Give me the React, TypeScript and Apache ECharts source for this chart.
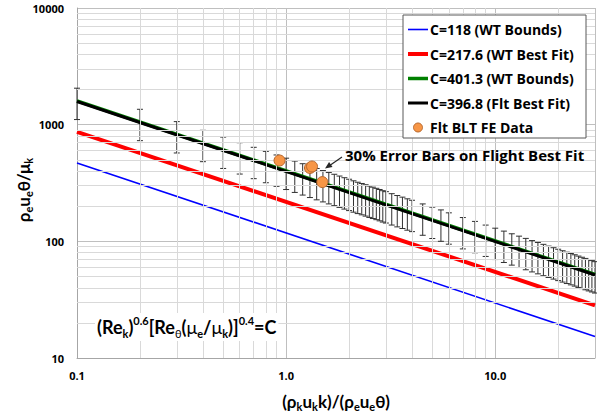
import React, { useEffect, useRef } from 'react';
import * as echarts from 'echarts';

// ---- data ----
const seriesNames = [
  'C=118 (WT Bounds)',
  'C=217.6 (WT Best Fit)',
  'C=401.3 (WT Bounds)',
  'C=396.8 (Flt Best Fit)',
  'Flt BLT FE Data',
];
const seriesColors = ['#0000FF', '#FF0000', '#008000', '#000000', '#F79646'];
const seriesWidths = [1.6, 4, 3.5, 3, 0];
const blueLine = [[0.1, 470], [30, 15.3]];
const redLine = [[0.1, 866], [30, 28.3]];
const greenLine = [[0.1, 1598], [30, 52.1]];
const blackLine = [[0.1, 1580], [30, 51.5]];
const fltData = [[0.93, 493], [1.3, 425], [1.33, 438], [1.49, 322]];

const errX = [
  0.1, 0.2, 0.3, 0.4, 0.5, 0.6, 0.7, 0.8, 0.9, 1.0,
  1.1, 1.2, 1.3, 1.4, 1.5, 1.6, 1.7, 1.8, 1.9, 2.0,
  2.1, 2.2, 2.3, 2.4, 2.5, 2.6, 2.7, 2.8, 2.9, 3.0,
  3.2, 3.4, 3.6, 3.8, 4.0, 4.5, 5.0, 5.5,
  6, 7, 8, 9, 10, 11, 12, 13, 14, 15, 16, 17, 18, 19, 20,
  21, 22, 23, 24, 25, 26, 27, 28, 29, 30,
];
const errCenter = [
  1580, 1042, 817, 688, 602, 539, 492, 454, 423, 397,
  375, 356, 339, 324, 311, 299, 289, 279, 270, 262,
  254, 247, 241, 235, 229, 224, 219, 214, 209, 205,
  197, 190, 184, 178, 173, 161, 151, 143,
  135, 123, 114, 106, 99.7, 94.1, 89.3, 85.2, 81.5, 78.1, 75.2, 72.5, 70.0, 67.8, 65.8,
  63.9, 62.1, 60.5, 59.0, 57.5, 56.2, 54.9, 53.7, 52.6, 51.5,
];
const errPct = 0.3;

const xTickLabels: Record<string, string> = { '0.1': '0.1', '1': '1.0', '10': '10.0' };
const yTickLabels = ['10', '100', '1000', '10000'];
const xMinorGrid = [0.2, 0.3, 0.4, 0.5, 0.6, 0.7, 0.8, 0.9, 2, 3, 4, 5, 6, 7, 8, 9, 20];
const yMinorGrid = [
  20, 30, 40, 50, 60, 70, 80, 90,
  200, 300, 400, 500, 600, 700, 800, 900,
  2000, 3000, 4000, 5000, 6000, 7000, 8000, 9000,
];

const FONT = '"Open Sans", Lato, sans-serif';
const FONT2 = 'Lato, "Open Sans", sans-serif';

function legendGraphics() {
  const x0 = 403, y0 = 15, w = 183, h = 123;
  const els: any[] = [
    { type: 'rect', z: 100, shape: { x: x0, y: y0, width: w, height: h }, style: { fill: '#fff', stroke: '#595959', lineWidth: 1 } },
  ];
  seriesNames.forEach((name, i) => {
    const cy = 29.5 + i * 24.5;
    if (i < 4) {
      els.push({
        type: 'line',
        z: 101,
        shape: { x1: 408, y1: cy, x2: 428, y2: cy },
        style: { stroke: seriesColors[i], lineWidth: seriesWidths[i] },
      });
    } else {
      els.push({
        type: 'circle',
        z: 101,
        shape: { cx: 418, cy, r: 4.5 },
        style: { fill: seriesColors[i], stroke: '#B8692F', lineWidth: 1 },
      });
    }
    els.push({
      type: 'text',
      z: 102,
      x: 430,
      y: cy - 9,
      style: {
        text: name,
        fontFamily: FONT,
        fontWeight: 'bold',
        fontSize: 14,
        lineHeight: 18,
        fill: '#000',
        backgroundColor: '#fff',
      },
    });
  });
  return els;
}

export default function App() {
  const ref = useRef<HTMLDivElement>(null);
  useEffect(() => {
    if (!ref.current) return;
    const chart = echarts.init(ref.current, undefined, { renderer: 'svg' });
    const errData = errX.map((x, i) => [x, errCenter[i]]);
    const lineCommon = { type: 'line', showSymbol: false, symbol: 'none', silent: true, z: 3 };
    const option: any = {
      animation: false,
      backgroundColor: '#fff',
      grid: { left: 77, right: 2, top: 8, bottom: 54 },
      xAxis: {
        type: 'log',
        logBase: 10,
        min: 0.1,
        max: 30,
        axisLine: { show: true, lineStyle: { color: '#A6A6A6', width: 1 } },
        axisTick: { show: false },
        splitLine: { show: true, lineStyle: { color: '#BFBFBF', width: 1 } },
        axisLabel: {
          margin: 12,
          color: '#000',
          fontFamily: FONT,
          fontWeight: 'bold',
          fontSize: 11,
          showMaxLabel: false,
          formatter: (v: number) => {
            const k = String(Math.round(v * 1000) / 1000);
            return xTickLabels[k] ?? '';
          },
        },
      },
      yAxis: {
        type: 'log',
        logBase: 10,
        min: 10,
        max: 10000,
        axisLine: { show: true, lineStyle: { color: '#A6A6A6', width: 1 } },
        axisTick: { show: false },
        splitLine: { show: true, lineStyle: { color: '#BFBFBF', width: 1 } },
        axisLabel: {
          margin: 13,
          color: '#000',
          fontFamily: FONT,
          fontWeight: 'bold',
          fontSize: 11,
          formatter: (v: number) => {
            const s = String(Math.round(v));
            return yTickLabels.includes(s) ? s : '';
          },
        },
      },
      legend: { show: false },
      graphic: [
        ...legendGraphics(),
        {
          type: 'text',
          x: 95,
          y: 327,
          z: 50,
          style: {
            text:
              '{m|(Re}{sub|k}{m|)}{sup|0.6}{m|[Re}{subn|θ}{m|(}{mu|μ}{sub|e}{m|/}{mu|μ}{sub|k}{m|)]}{sup|0.4}{m|=C}',
            textVerticalAlign: 'middle',
            backgroundColor: '#fff',
            padding: [2, 2, 2, 2],
            rich: {
              m: { fontFamily: FONT2, fontWeight: 'bold', fontSize: 18, lineHeight: 24, fill: '#000' },
              mu: { fontFamily: FONT2, fontWeight: 'normal', fontSize: 18, lineHeight: 24, fill: '#000' },
              sub: { fontFamily: FONT2, fontWeight: 'bold', fontSize: 11, lineHeight: 11, verticalAlign: 'bottom', fill: '#000' },
              subn: { fontFamily: FONT2, fontWeight: 'normal', fontSize: 11, lineHeight: 11, verticalAlign: 'bottom', fill: '#000' },
              sup: { fontFamily: FONT2, fontWeight: 'bold', fontSize: 11, lineHeight: 11, verticalAlign: 'top', fill: '#000' },
            },
          },
        },
        {
          type: 'text',
          x: 336,
          y: 401,
          style: {
            text: '{m|(ρ}{sub|k}{m|u}{sub|k}{m|k)/(ρ}{sub|e}{m|u}{sub|e}{m|θ)}',
            textAlign: 'center',
            textVerticalAlign: 'middle',
            rich: {
              m: { fontFamily: FONT2, fontWeight: 'bold', fontSize: 17, lineHeight: 22, fill: '#000' },
              sub: { fontFamily: FONT2, fontWeight: 'bold', fontSize: 11, lineHeight: 11, verticalAlign: 'bottom', fill: '#000' },
            },
          },
        },
        {
          type: 'text',
          x: 23,
          y: 190,
          rotation: Math.PI / 2,
          style: {
            text: '{m|ρ}{sub|e}{m|u}{sub|e}{m|θ/μ}{sub|k}',
            textAlign: 'center',
            textVerticalAlign: 'middle',
            rich: {
              m: { fontFamily: FONT2, fontWeight: 'bold', fontSize: 17, lineHeight: 22, fill: '#000' },
              sub: { fontFamily: FONT2, fontWeight: 'bold', fontSize: 11, lineHeight: 11, verticalAlign: 'bottom', fill: '#000' },
            },
          },
        },
        {
          type: 'text',
          x: 345,
          y: 155,
          z: 50,
          style: {
            text: '30% Error Bars on Flight Best Fit',
            textVerticalAlign: 'middle',
            fontFamily: FONT,
            fontWeight: 'bold',
            fontSize: 15,
            fill: '#000',
          },
        },
        {
          type: 'line',
          z: 50,
          shape: { x1: 342, y1: 157, x2: 329, y2: 166 },
          style: { stroke: '#262626', lineWidth: 1.2 },
        },
        {
          type: 'polygon',
          z: 50,
          shape: { points: [[325, 168.5], [332.5, 167], [329.1, 162]] },
          style: { fill: '#262626' },
        },
      ],
      series: [
        {
          type: 'line',
          name: '__grid',
          data: [[0.1, 10]],
          showSymbol: false,
          symbol: 'none',
          lineStyle: { opacity: 0 },
          silent: true,
          z: 1,
          markLine: {
            silent: true,
            symbol: ['none', 'none'],
            label: { show: false },
            emphasis: { disabled: true },
            lineStyle: { color: '#D9D9D9', width: 1, type: 'solid' },
            data: [
              ...xMinorGrid.map((v) => ({ xAxis: v })),
              ...yMinorGrid.map((v) => ({ yAxis: v })),
            ],
          },
        },
        {
          type: 'custom',
          name: '__err',
          silent: true,
          z: 2,
          data: errData,
          encode: { x: 0, y: 1 },
          renderItem: (_p: any, api: any) => {
            const x = api.value(0);
            const c = api.value(1);
            const top = api.coord([x, c * (1 + errPct)]);
            const bot = api.coord([x, c * (1 - errPct)]);
            const cap = 3;
            const st = { stroke: '#303030', lineWidth: 1 };
            return {
              type: 'group',
              children: [
                { type: 'line', shape: { x1: top[0], y1: top[1], x2: bot[0], y2: bot[1] }, style: st },
                { type: 'line', shape: { x1: top[0] - cap, y1: top[1], x2: top[0] + cap, y2: top[1] }, style: st },
                { type: 'line', shape: { x1: bot[0] - cap, y1: bot[1], x2: bot[0] + cap, y2: bot[1] }, style: st },
              ],
            };
          },
        },
        { ...lineCommon, name: seriesNames[0], data: blueLine, color: seriesColors[0], lineStyle: { color: seriesColors[0], width: seriesWidths[0] } },
        { ...lineCommon, name: seriesNames[1], data: redLine, color: seriesColors[1], lineStyle: { color: seriesColors[1], width: seriesWidths[1] } },
        { ...lineCommon, name: seriesNames[2], data: greenLine, color: seriesColors[2], lineStyle: { color: seriesColors[2], width: seriesWidths[2] } },
        { ...lineCommon, name: seriesNames[3], data: blackLine, color: seriesColors[3], lineStyle: { color: seriesColors[3], width: seriesWidths[3] } },
        {
          type: 'scatter',
          name: seriesNames[4],
          data: fltData,
          symbol: 'circle',
          symbolSize: 11,
          z: 5,
          silent: true,
          itemStyle: { color: seriesColors[4], borderColor: '#B8692F', borderWidth: 1, opacity: 1 },
        },
      ],
    };
    chart.setOption(option);
    return () => chart.dispose();
  }, []);
  return (
    <div
      ref={ref}
      style={{ position: 'fixed', left: 0, top: 0, width: 597, height: 412, background: '#fff' }}
    />
  );
}
